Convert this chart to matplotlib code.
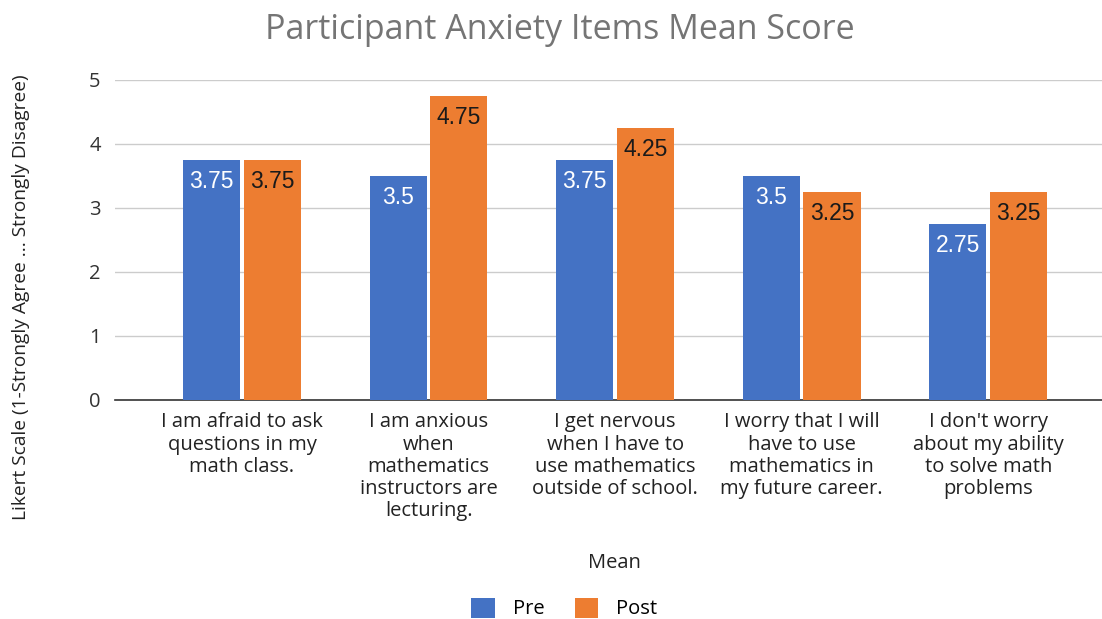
import matplotlib.pyplot as plt
import numpy as np

categories = [
    "I am afraid to ask\nquestions in my\nmath class.",
    "I am anxious\nwhen\nmathematics\ninstructors are\nlecturing.",
    "I get nervous\nwhen I have to\nuse mathematics\noutside of school.",
    "I worry that I will\nhave to use\nmathematics in\nmy future career.",
    "I don't worry\nabout my ability\nto solve math\nproblems",
]
pre = [3.75, 3.5, 3.75, 3.5, 2.75]
post = [3.75, 4.75, 4.25, 3.25, 3.25]
pre_labels = ["3.75", "3.5", "3.75", "3.5", "2.75"]
post_labels = ["3.75", "4.75", "4.25", "3.25", "3.25"]

plt.rcParams['font.family'] = ['Open Sans', 'DejaVu Sans']

fig = plt.figure(figsize=(11.02, 6.19), dpi=100)
ax = fig.add_axes([0.104, 0.354, 0.896, 0.517])

x = np.arange(len(categories))
w = 0.306
off = 0.1625
b1 = ax.bar(x - off, pre, w, color="#4472C4", label="Pre", zorder=3)
b2 = ax.bar(x + off, post, w, color="#ED7D31", label="Post", zorder=3)

for rect, lab in zip(b1, pre_labels):
    ax.annotate(lab, (rect.get_x() + rect.get_width() / 2, rect.get_height()),
                xytext=(0, -7), textcoords="offset points", ha="center", va="top",
                color="white", fontsize=16.5, family="Liberation Sans", zorder=4)
for rect, lab in zip(b2, post_labels):
    ax.annotate(lab, (rect.get_x() + rect.get_width() / 2, rect.get_height()),
                xytext=(0, -7), textcoords="offset points", ha="center", va="top",
                color="#1a1a1a", fontsize=16.5, family="Liberation Sans", zorder=4)

ax.set_xlim(-0.683, 4.61)
ax.set_ylim(0, 5)
ax.set_yticks([0, 1, 2, 3, 4, 5])
ax.yaxis.grid(True, color="#cccccc", linewidth=1, zorder=0)
ax.set_xticks(x)
ax.set_xticklabels(categories, fontsize=14.5, color="#222222", linespacing=1.15)
ax.tick_params(axis="x", length=0, pad=9)
ax.tick_params(axis="y", length=0, pad=10, labelsize=14.5, labelcolor="#333333")
for s in ["top", "right", "left"]:
    ax.spines[s].set_visible(False)
ax.spines["bottom"].set_color("#333333")
ax.spines["bottom"].set_linewidth(1.2)

fig.text(0.019, 0.52, "Likert Scale (1-Strongly Agree ... Strongly Disagree)", fontsize=13.8,
         color="#222222", rotation=90, ha="center", va="center")
fig.text(0.558, 0.09, "Mean", ha="center", va="center", fontsize=14.5, color="#222222")
fig.text(0.508, 0.952, "Participant Anxiety Items Mean Score", ha="center", va="center",
         fontsize=24.5, color="#757575")

fig.legend(handles=[b1, b2], labels=["Pre", "Post"], loc="lower center",
           bbox_to_anchor=(0.512, -0.03), ncol=2, frameon=False, fontsize=14.5,
           handlelength=1.15, handleheight=1.15, columnspacing=1.5, handletextpad=0.9)

plt.savefig("out.png", dpi=100)
